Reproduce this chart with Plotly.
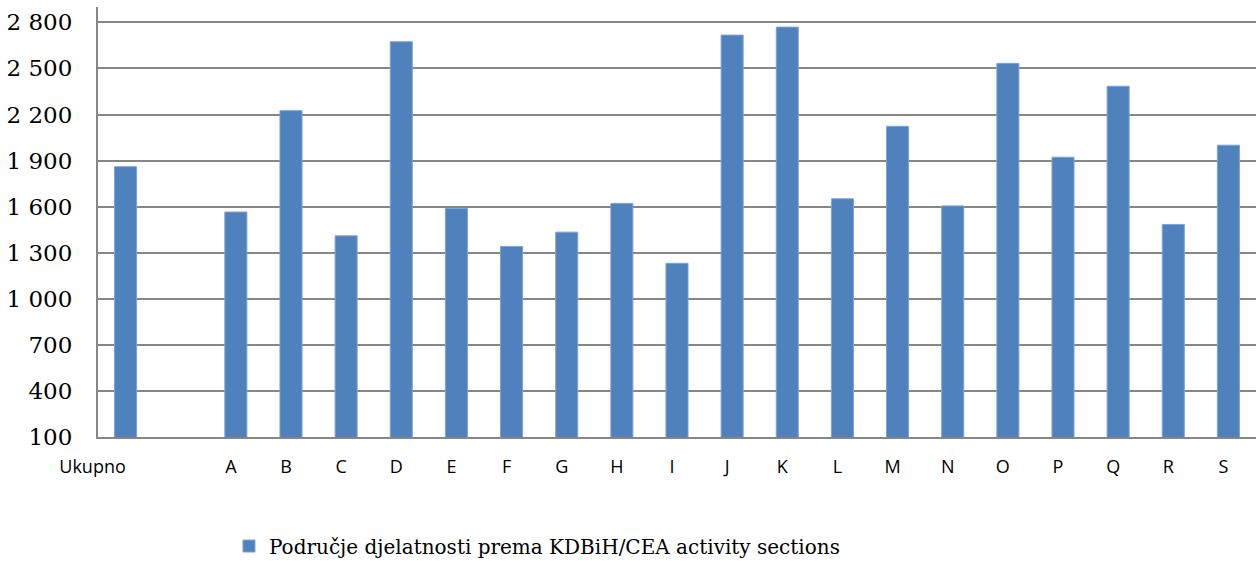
import plotly.graph_objects as go

categories = ["Ukupno", " ", "A", "B", "C", "D", "E", "F", "G", "H", "I",
              "J", "K", "L", "M", "N", "O", "P", "Q", "R", "S"]
values = [1860, None, 1565, 2225, 1410, 2674, 1588, 1341, 1434, 1621, 1231,
          2717, 2769, 1651, 2123, 1605, 2533, 1922, 2384, 1484, 2000]
tick_labels = ["Ukupno" + "\u00a0" * 12, " ", "A", "B", "C", "D", "E", "F", "G", "H", "I",
               "J", "K", "L", "M", "N", "O", "P", "Q", "R", "S"]
y_ticks = [100, 400, 700, 1000, 1300, 1600, 1900, 2200, 2500, 2800]
y_tick_text = ["100", "400", "700", "1 000", "1 300", "1 600", "1 900", "2 200", "2 500", "2 800"]
series_name = "Područje djelatnosti prema KDBiH/CEA activity sections"

fig = go.Figure()
fig.add_trace(go.Bar(
    x=categories, y=values, name=series_name,
    marker=dict(color="#4F81BD", line=dict(color="#7FA3D3", width=1)),
))

fig.update_layout(
    width=1256, height=561,
    margin=dict(l=98, r=0, t=7, b=124),
    paper_bgcolor="white", plot_bgcolor="white",
    bargap=0.6,
    showlegend=True,
    legend=dict(xref="container", yref="container", x=0.1823, y=0.0267,
                xanchor="left", yanchor="middle",
                orientation="h", font=dict(family="DejaVu Serif", size=20, color="black"),
                bgcolor="rgba(0,0,0,0)"),
    xaxis=dict(type="category", tickmode="array", tickvals=categories, ticktext=tick_labels,
               showgrid=False, showline=True, linecolor="#868686", linewidth=2,
               ticks="", ticklabelstandoff=12, ticklabelshift=-5, tickangle=0,
               automargin=False,
               tickfont=dict(family="Open Sans", size=18, color="black"),
               range=[-0.5, 20.5]),
    yaxis=dict(range=[100, 2900], tickmode="array", tickvals=y_ticks, ticktext=y_tick_text,
               showgrid=True, gridcolor="#868686", gridwidth=2,
               showline=True, linecolor="#868686", linewidth=2,
               ticks="", ticklabelstandoff=19, zeroline=False, automargin=False,
               tickfont=dict(family="DejaVu Serif", size=23, color="black")),
)

fig.write_html("out.html", config={"displayModeBar": False},
               post_script="document.body.style.margin='0';document.body.style.overflow='hidden';")
